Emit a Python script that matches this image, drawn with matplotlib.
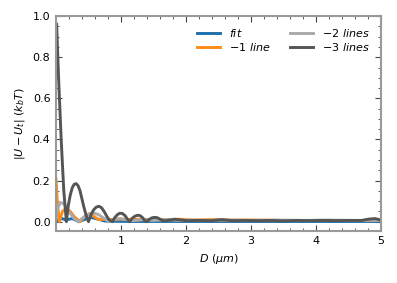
import numpy as np
import matplotlib.pyplot as plt
from matplotlib.ticker import MultipleLocator

# values
x_fit = [0.0, 0.05, 0.1, 0.15, 0.2, 0.25, 0.3, 0.35, 0.45, 0.55, 0.65, 0.75, 0.9,
         1.1, 1.5, 2.0, 3.0, 4.0, 5.0]
y_fit = [0.0, 0.012, 0.015, 0.008, 0.012, 0.015, 0.008, 0.0, 0.012, 0.02, 0.012, 0.003,
         0.002, 0.001, 0.001, 0.001, 0.001, 0.001, 0.001]

x_m1 = [0.0, 0.02, 0.05, 0.1, 0.16, 0.22, 0.28, 0.37, 0.44, 0.52, 0.59, 0.65, 0.75,
        0.85, 0.95, 1.05, 1.2, 1.35, 1.5, 1.7, 1.9, 2.1, 2.4, 2.7, 3.0, 3.5, 4.0, 4.5, 5.0]
y_m1 = [0.21, 0.1, 0.0, 0.05, 0.065, 0.05, 0.025, 0.0, 0.025, 0.04, 0.025, 0.01, 0.012,
        0.01, 0.013, 0.01, 0.012, 0.01, 0.012, 0.01, 0.012, 0.008, 0.01, 0.008, 0.008,
        0.006, 0.006, 0.006, 0.006]

x_m2 = [0.0, 0.03, 0.07, 0.11, 0.16, 0.22, 0.28, 0.34, 0.42, 0.5, 0.58, 0.65, 0.72,
        0.8, 0.9, 1.0, 1.1, 1.2, 1.35, 1.5, 1.7, 1.9, 2.1, 2.3, 2.6, 3.0, 3.4, 3.8,
        4.2, 4.6, 5.0]
y_m2 = [0.02, 0.07, 0.092, 0.09, 0.07, 0.04, 0.015, 0.0, 0.02, 0.035, 0.042, 0.035, 0.02,
        0.003, 0.01, 0.015, 0.008, 0.005, 0.01, 0.006, 0.01, 0.006, 0.008, 0.006,
        0.008, 0.006, 0.008, 0.006, 0.008, 0.006, 0.006]

x_m3 = [0.01, 0.04, 0.08, 0.12, 0.16, 0.19, 0.22, 0.25, 0.28, 0.31, 0.34, 0.37, 0.4,
        0.43, 0.46, 0.5, 0.54, 0.58, 0.62, 0.66, 0.7, 0.74, 0.78, 0.82, 0.87, 0.9, 0.94,
        0.98, 1.02, 1.06, 1.1, 1.13, 1.17, 1.21, 1.25, 1.29, 1.33, 1.36, 1.39, 1.43,
        1.47, 1.51, 1.55, 1.59, 1.63, 1.68, 1.75, 1.83, 1.9, 2.0, 2.2, 2.4, 2.55, 2.7,
        2.9, 3.1, 3.3, 3.5, 3.7, 3.9, 4.1, 4.3, 4.5, 4.7, 4.8, 4.9, 4.95, 5.0]
y_m3 = [0.96, 0.7, 0.4, 0.15, 0.0, 0.08, 0.13, 0.165, 0.182, 0.185, 0.175, 0.15, 0.11,
        0.07, 0.035, 0.0, 0.035, 0.058, 0.071, 0.075, 0.068, 0.05, 0.027, 0.008, 0.0,
        0.018, 0.033, 0.041, 0.04, 0.03, 0.012, 0.0, 0.016, 0.026, 0.031, 0.03, 0.02,
        0.008, 0.0, 0.01, 0.018, 0.021, 0.02, 0.014, 0.007, 0.004, 0.008, 0.012, 0.009,
        0.005, 0.006, 0.005, 0.01, 0.005, 0.006, 0.005, 0.006, 0.004, 0.006, 0.005,
        0.006, 0.005, 0.006, 0.006, 0.012, 0.015, 0.012, 0.006]

labels = [r'$fit$', r'$-1\ line$', r'$-2\ lines$', r'$-3\ lines$']
colors = ['#1f6fad', '#ff8c1a', '#aaaaaa', '#555555']

plt.rcParams['font.size'] = 8
fig = plt.figure(figsize=(3.97, 2.83), dpi=100)
ax = fig.add_axes([0.141, 0.184, 0.819, 0.759])

series = [(x_fit, y_fit), (x_m1, y_m1), (x_m2, y_m2), (x_m3, y_m3)]
for (xs, ys), lab, c in zip(series, labels, colors):
    ax.plot(xs, ys, color=c, lw=2.1, label=lab)

ax.set_xlim(0.0, 5)
ax.set_ylim(-0.045, 1.0)
ax.set_xticks([1, 2, 3, 4, 5])
ax.xaxis.set_minor_locator(MultipleLocator(0.2))
ax.yaxis.set_major_locator(MultipleLocator(0.2))
ax.yaxis.set_minor_locator(MultipleLocator(0.05))
ax.tick_params(which='both', direction='in', top=True, right=True, color='#444444',
               pad=4)
ax.tick_params(which='major', length=4)
ax.tick_params(which='minor', length=2)
for s in ax.spines.values():
    s.set_color('#999999')
    s.set_linewidth(1.5)

ax.set_xlabel(r'$D\ (\mu m)$')
ax.set_ylabel(r'$|U-U_t|\ (k_bT)$')
ax.legend(ncol=2, frameon=False, loc='upper right', handlelength=2.1,
          columnspacing=1.75, borderaxespad=0.6, labelspacing=0.15)

fig.savefig('out.png', dpi=100)
